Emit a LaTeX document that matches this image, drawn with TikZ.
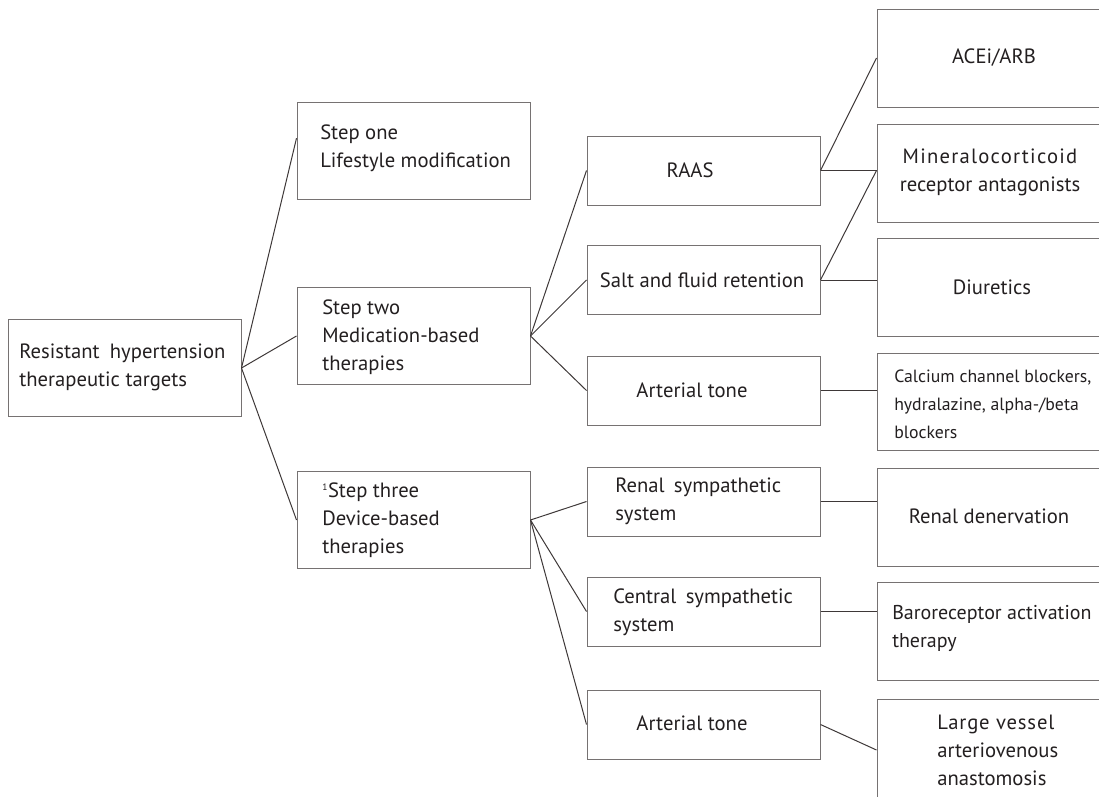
\documentclass[tikz,border=0pt]{standalone}
\usepackage{fontspec}
\setmainfont{PT Sans}
\usetikzlibrary{calc}
\definecolor{boxgray}{RGB}{118,114,114}
\definecolor{linegray}{RGB}{62,56,56}
\definecolor{txtdark}{RGB}{35,31,32}
% column widths and box heights (px)
\newcommand{\colw}{233}
\newcommand{\leafw}{240}
\newcommand{\tallh}{97}
\newcommand{\lowh}{69}

\begin{document}
\begin{tikzpicture}[x=0.75pt,y=-0.75pt,
    font=\fontsize{15.5}{21}\selectfont,text=txtdark,
    box/.style={draw=boxgray,line width=0.75pt,inner sep=0pt,
      minimum width=#1*0.75pt},
    tallbox/.style={box=\colw,minimum height=\tallh*0.75pt},
    lowbox/.style={box=\colw,minimum height=\lowh*0.75pt},
    leafbox/.style={box=\leafw,minimum height=98*0.75pt},
    txt/.style={inner sep=0pt,align=left,anchor=west},
    ctxt/.style={inner sep=0pt,align=center},
    link/.style={draw=linegray,line width=0.75pt}]

  \useasboundingbox (0,0) rectangle (1099,796);
  \clip (0,0) rectangle (1099,796);

  % boxes
  \node[tallbox] (root) at (124.5,368) {};
  \node[tallbox] (s1) at (413.5,150.5) {};
  \node[tallbox] (s2) at (413.5,336) {};
  \node[tallbox] (s3) at (413.5,520) {};

  \node[lowbox] (raas) at (703.5,170.5) {};
  \node[lowbox] (salt) at (703.5,280) {};
  \node[lowbox] (at1) at (703.5,390.5) {};
  \node[lowbox] (renal) at (703.5,501.5) {};
  \node[lowbox] (central) at (703.5,611.5) {};
  \node[lowbox] (at2) at (703.5,724.5) {};

  \node[leafbox] (ace) at (997,58) {};
  \node[leafbox] (mra) at (997,173) {};
  \node[leafbox] (diu) at (997,287.5) {};
  \node[leafbox,minimum height=\tallh*0.75pt] (ccb) at (997,401.5) {};
  \node[leafbox] (rdn) at (997,517) {};
  \node[leafbox] (bat) at (997,631.5) {};
  \node[leafbox,minimum height=102*0.75pt] (avs) at (997,750) {};

  % texts
  \node[txt] (rootT) at (19,367)
    {Resistant\hspace{0.5em}hypertension\\therapeutic targets};
  \node[txt] (s1T) at (320,148) {Step one\\Lifestyle modification};
  \node[txt] (s2T) at (322,337) {Step two\\Medication-based\\therapies};
  \node[txt] (s3T) at (322,520)
    {\textsuperscript{\scriptsize 1}Step three\\Device-based\\therapies};

  \node[ctxt] (raasT) at (690,170) {RAAS};
  \node[ctxt] (saltT) at (702,280) {Salt and fluid retention};
  \node[ctxt] (at1T) at (692,390) {Arterial tone};
  \node[txt] (renalT) at (615,501) {Renal\hspace{0.45em}sympathetic\\system};
  \node[txt] (centralT) at (613,612) {Central\hspace{0.45em}sympathetic\\system};
  \node[ctxt] (at2T) at (692,723) {Arterial tone};

  \node[ctxt] (aceT) at (994,58) {ACEi/ARB};
  \node[ctxt] (mraT) at (990,172)
    {{\addfontfeature{LetterSpace=6}Mineralocorticoid}\\receptor antagonists};
  \node[ctxt] (diuT) at (992,287) {Diuretics};
  \node[txt,font=\fontsize{13.3}{21}\selectfont] (ccbT) at (894,404)
    {Calcium channel blockers,\\hydralazine, alpha-/beta\\blockers};
  \node[ctxt] (rdnT) at (989,516) {Renal denervation};
  \node[txt,font=\fontsize{15}{21}\selectfont] (batT) at (892,628)
    {Baroreceptor activation\\therapy};
  \node[txt] (avsT) at (937,750)
    {{\addfontfeature{LetterSpace=4}Large vessel}\\arteriovenous\\anastomosis};

  % connectors
  \draw[link] (root.east) -- (s1.174);
  \draw[link] (root.east) -- (s2.west);
  \draw[link] (root.east) -- (s3.west);

  \draw[link] (s2.east) -- (raas.west);
  \draw[link] (s2.east) -- (salt.west);
  \draw[link] (s2.east) -- (at1.west);
  \draw[link] (s3.east) -- (renal.west);
  \draw[link] (s3.east) -- (central.west);
  \draw[link] (s3.east) -- (at2.west);

  \draw[link] (raas.east) -- (ace.west);
  \draw[link] (raas.east) -- (raas.east -| mra.west);
  \draw[link] (salt.east) -- (raas.east -| mra.west);
  \draw[link] (salt.east) -- (salt.east -| diu.west);
  \draw[link] (at1.east) -- (at1.east -| ccb.west);
  \draw[link] (renal.east) -- (renal.east -| rdn.west);
  \draw[link] (central.east) -- (central.east -| bat.west);
  \draw[link] (at2.east) -- (avs.west);
\end{tikzpicture}
\end{document}
